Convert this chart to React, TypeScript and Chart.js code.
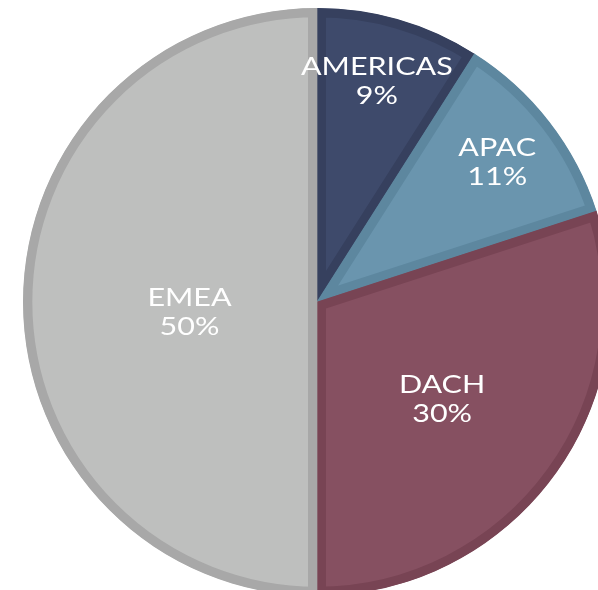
import React, { useEffect, useRef } from "react";
import { Chart, registerables } from "chart.js";

Chart.register(...registerables);

const categories = ["AMERICAS", "APAC", "DACH", "EMEA"];
const shares = [9, 11, 30, 50];
const percentLabels = ["9%", "11%", "30%", "50%"];

const fillColors = ["#3E4A6B", "#6A95AE", "#865061", "#BEBFBE"];
const borderColors = ["#36405E", "#5D879F", "#784454", "#A8A8A8"];
// label placement: fraction of radius and angular nudge in degrees
const labelRadius = [0.776, 0.776, 0.54, 0.435];
const labelNudge = [-1, 0, 2, -4.5];
const textStretch = 1.22;

const labelPlugin = {
  id: "sliceLabels",
  afterDatasetsDraw(chart: any) {
    const ctx = chart.ctx;
    const meta = chart.getDatasetMeta(0);
    meta.data.forEach((arc: any, i: number) => {
      const p = arc.getProps(["x", "y", "startAngle", "endAngle", "outerRadius"], true);
      const mid = (p.startAngle + p.endAngle) / 2 + (labelNudge[i] * Math.PI) / 180;
      const r = p.outerRadius * labelRadius[i];
      const cx = p.x + Math.cos(mid) * r;
      const cy = p.y + Math.sin(mid) * r;
      ctx.save();
      ctx.translate(cx, cy);
      ctx.scale(textStretch, 1);
      ctx.fillStyle = "#FFFFFF";
      ctx.font = "25px Lato";
      ctx.textAlign = "center";
      ctx.textBaseline = "middle";
      ctx.fillText(categories[i], 0, -14.5);
      ctx.fillText(percentLabels[i], 0, 14.5);
      ctx.restore();
    });
  },
};

export default function App() {
  const ref = useRef<HTMLCanvasElement>(null);
  useEffect(() => {
    if (!ref.current) return;
    const chart = new Chart(ref.current, {
      type: "pie",
      data: {
        labels: categories,
        datasets: [
          {
            data: shares,
            backgroundColor: fillColors,
            borderColor: borderColors,
            borderWidth: 9,
            borderAlign: "inner",
          } as any,
        ],
      },
      options: {
        responsive: false,
        animation: false,
        events: [],
        layout: { padding: 0 },
        plugins: {
          legend: { display: false },
          tooltip: { enabled: false },
        },
      },
      plugins: [labelPlugin],
    });
    return () => chart.destroy();
  }, []);
  return (
    <div
      style={{
        position: "fixed",
        left: 0,
        top: 0,
        width: 598,
        height: 590,
        overflow: "hidden",
        background: "#FFFFFF",
      }}
    >
      <canvas
        ref={ref}
        width={618}
        height={588}
        style={{ position: "absolute", left: 8, top: 8, width: 618, height: 588 }}
      />
    </div>
  );
}
